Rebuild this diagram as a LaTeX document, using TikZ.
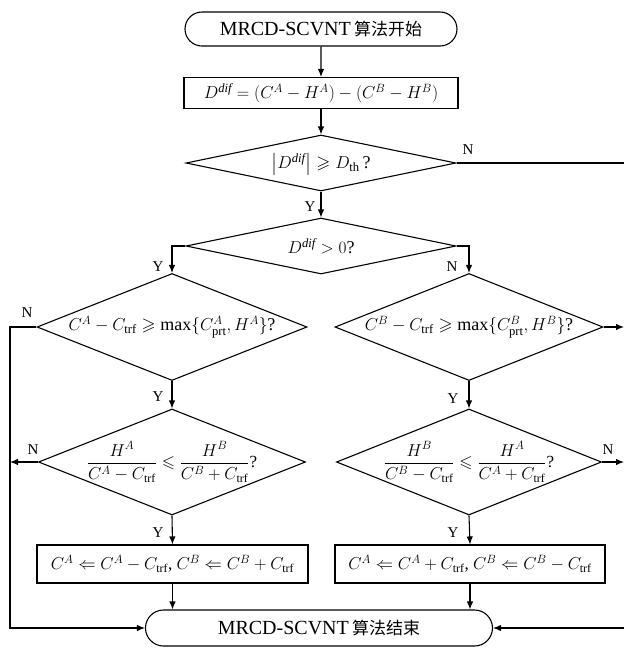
\documentclass[tikz,border=0pt]{standalone}
\usepackage{amsmath,amssymb}
\usepackage{fontspec}
\setmainfont{Liberation Serif}
\newfontfamily\cjk{Noto Sans CJK SC}
\usetikzlibrary{shapes.geometric,shapes.misc,arrows.meta}
\begin{document}
\begin{tikzpicture}[x=1pt,y=-1pt,
  line width=1.1pt,
  every node/.style={font=\fontsize{18}{21}\selectfont},
  arr/.style={-{Latex[length=8pt,width=6.5pt]}},
  term/.style={draw,rounded rectangle,minimum width=#1,minimum height=34pt,inner sep=0pt,font=\fontsize{20}{23}\selectfont},
  proc/.style={draw,rectangle,inner sep=0pt},
  dia/.style={draw,diamond,inner sep=0pt},
  fr/.style={font=\fontsize{17}{20}\selectfont},
  lab/.style={font=\fontsize{15}{17}\selectfont,inner sep=1pt}]
\useasboundingbox (0,0) rectangle (624,649);
% nodes
\node[term=272pt] (start) at (321,29) {MRCD-SCVNT\,{\cjk\fontsize{17}{20}\selectfont 算法开始}};
\node[proc,minimum width=274pt,minimum height=31pt] (box1) at (321,93) {$D^{\mathit{dif}}=(C^{A}-H^{A})-(C^{B}-H^{B})$};
\node[dia,minimum width=270pt,minimum height=56pt] (d1) at (321,163) {};
\node (t1) at (321,164) {$\left|D^{\mathit{dif}}\right|\geqslant D_{\mathrm{th}}$\,?};
\node[dia,minimum width=270pt,minimum height=56pt] (d2) at (321,246) {};
\node (t2) at (321,246) {$D^{\mathit{dif}}>0$?};
\node[dia,minimum width=270pt,minimum height=107pt] (d3) at (172,327) {};
\node (t3) at (172,327) {$C^{A}-C_{\mathrm{trf}}\geqslant\max\{C^{A}_{\mathrm{prt}},H^{A}\}$?};
\node[dia,minimum width=268pt,minimum height=107pt] (d4) at (469,327) {};
\node (t4) at (469,327) {$C^{B}-C_{\mathrm{trf}}\geqslant\max\{C^{B}_{\mathrm{prt}},H^{B}\}$?};
\node[dia,minimum width=267pt,minimum height=106pt] (d5) at (172,462) {};
\node[fr] (t5) at (172,462) {$\dfrac{H^{A}}{C^{A}-C_{\mathrm{trf}}}\leqslant\dfrac{H^{B}}{C^{B}+C_{\mathrm{trf}}}$?};
\node[dia,minimum width=265pt,minimum height=106pt] (d6) at (469,462) {};
\node[fr] (t6) at (469,462) {$\dfrac{H^{B}}{C^{B}-C_{\mathrm{trf}}}\leqslant\dfrac{H^{A}}{C^{A}+C_{\mathrm{trf}}}$?};
\node[proc,fr,minimum width=271pt,minimum height=38pt] (box2) at (172.5,564) {$C^{A}\Leftarrow C^{A}-C_{\mathrm{trf}}$,\ $C^{B}\Leftarrow C^{B}+C_{\mathrm{trf}}$};
\node[proc,fr,minimum width=270pt,minimum height=38pt] (box3) at (470,564) {$C^{A}\Leftarrow C^{A}+C_{\mathrm{trf}}$,\ $C^{B}\Leftarrow C^{B}-C_{\mathrm{trf}}$};
\node[term=347pt,minimum height=36pt] (end) at (319,628) {MRCD-SCVNT\,{\cjk\fontsize{17}{20}\selectfont 算法结束}};
% free ends
\coordinate (r1) at (624,163);
\coordinate (r3) at (624,327);
\coordinate (r6) at (624,462);
\coordinate (re) at (624,628);
\coordinate (l3) at (10,327);
\coordinate (l5) at (10,462);
\coordinate (le) at (10,628);
% connectors
\draw[arr] (start) -- (box1);
\draw[arr] (box1) -- (d1.north);
\draw (d1.east) -- (r1);
\draw[arr] (d1.south) -- (d2.north);
\draw[arr] (d2.west) -| (d3.north);
\draw[arr] (d2.east) -| (d4.north);
\draw[arr] (d3.west) -- (l3) -- (le) -- (end.west);
\draw[arr] (d3.south) -- (d5.north);
\draw[arr] (d4.east) -- (r3);
\draw[arr] (d4.south) -- (d6.north);
\draw[arr] (d5.west) -- (l5);
\draw[arr] (d5.south) -- (box2.north);
\draw[arr] (d6.east) -- (r6);
\draw[arr] (d6.south) -- (box3.north);
\draw[arr] (box2.south) -- (box2.south |- end.north);
\draw[arr] (box3.south) -- (box3.south |- end.north);
\draw[arr] (re) -- (end.east);
% labels
\node[lab] (n1) at (468,150) {N};
\node[lab] (y1) at (310,207) {Y};
\node[lab] (y2) at (158,267) {Y};
\node[lab] (n2) at (452,267) {N};
\node[lab] (n3) at (27,313) {N};
\node[lab] (y3) at (158,397) {Y};
\node[lab] (y4) at (453,399) {Y};
\node[lab] (n5) at (33,450) {N};
\node[lab] (n6) at (608,450) {N};
\node[lab] (y5) at (158,533) {Y};
\node[lab] (y6) at (453,533) {Y};
\end{tikzpicture}
\end{document}
